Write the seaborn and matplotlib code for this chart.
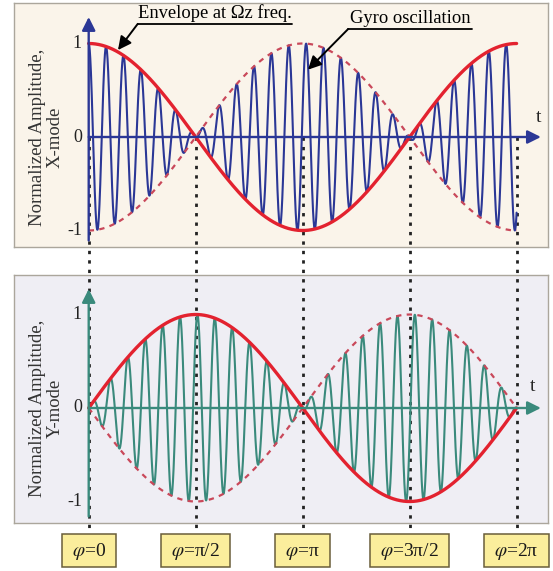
import numpy as np
import pandas as pd
import matplotlib
matplotlib.use("Agg")
import matplotlib.pyplot as plt
import matplotlib.transforms as mtransforms
from matplotlib.patches import FancyArrowPatch
import seaborn as sns

# ---- signal description -------------------------------------------------
phase_stops = [0.0, np.pi / 2, np.pi, 3 * np.pi / 2, 2 * np.pi]
phase_labels = [r"$\varphi$=0", r"$\varphi$=π/2", r"$\varphi$=π",
                r"$\varphi$=3π/2", r"$\varphi$=2π"]
carrier_cycles = 24.6          # gyro oscillations per envelope period
amplitude_ticks = [1, 0, -1]
panel_titles = ["Normalized Amplitude,\nX-mode", "Normalized Amplitude,\nY-mode"]
envelope_note = "Envelope at Ωz freq."
gyro_note = "Gyro oscillation"

phi = np.linspace(0, 2 * np.pi, 6000)
env_x = np.cos(phi)
env_y = np.sin(phi)
carrier_x = np.cos(carrier_cycles * phi)
carrier_y = np.sin(carrier_cycles * phi)

df = pd.DataFrame({
    "phi": phi,
    "x_signal": env_x * carrier_x,
    "x_env": env_x,
    "x_env_neg": -env_x,
    "y_signal": env_y * carrier_y,
    "y_env": env_y,
    "y_env_neg": -env_y,
})

# ---- styling ------------------------------------------------------------
sns.set_style("white")
plt.rcParams["font.family"] = ["Liberation Serif", "DejaVu Serif"]
plt.rcParams["mathtext.fontset"] = "stix"

BLUE = "#2B3796"
TEAL = "#3A8A7C"
RED = "#E3222F"
RED_DASH = "#C9485A"
TOP_BG = "#FAF4EA"
BOT_BG = "#EFEEF4"
FRAME = "#ABA69C"

W, H = 553, 571
fig = plt.figure(figsize=(W / 100, H / 100), dpi=100)
fig.patch.set_facecolor("white")

px_per_rad = 68.1
px_per_unit = 93.5
x0_px = 88.7
left_px, right_px = 14, 548


def make_panel(top_px, bottom_px, zero_px, bg):
    ax = fig.add_axes([left_px / W, 1 - bottom_px / H,
                       (right_px - left_px) / W, (bottom_px - top_px) / H])
    ax.set_xlim((left_px - x0_px) / px_per_rad, (right_px - x0_px) / px_per_rad)
    ax.set_ylim(-(bottom_px - zero_px) / px_per_unit, (zero_px - top_px) / px_per_unit)
    ax.set_xticks([])
    ax.set_yticks([])
    for s in ax.spines.values():
        s.set_color(FRAME)
        s.set_linewidth(1.0)
    # panel fill sits behind the phase guide lines, so it is a figure patch
    bb = ax.get_position()
    fig.add_artist(plt.Rectangle((bb.x0, bb.y0), bb.width, bb.height,
                                 transform=fig.transFigure, fc=bg, ec="none",
                                 zorder=-2))
    ax.patch.set_alpha(0)
    ax.set_zorder(1)
    return ax


ax_top = make_panel(3, 247, 137, TOP_BG)
ax_bot = make_panel(275, 523, 408, BOT_BG)


def draw_panel(ax, sig, env, env_neg, color, ylabel):
    sns.lineplot(data=df, x="phi", y=sig, ax=ax, color=color, lw=1.5,
                 zorder=3, estimator=None, sort=False)
    sns.lineplot(data=df, x="phi", y=env_neg, ax=ax, color=RED_DASH, lw=1.6,
                 zorder=4, estimator=None, sort=False)
    ax.lines[-1].set_linestyle((0, (2.4, 2.4)))
    sns.lineplot(data=df, x="phi", y=env, ax=ax, color=RED, lw=2.4,
                 zorder=5, estimator=None, sort=False)
    ax.set_xlabel("")
    ax.set_ylabel("")

    xmin, xmax = ax.get_xlim()
    ymin, ymax = ax.get_ylim()
    # time axis and amplitude axis with arrow heads
    ax.add_patch(FancyArrowPatch((0, 0), (6.64, 0), arrowstyle="-|>",
                                 mutation_scale=20, color=color, lw=1.7,
                                 shrinkA=0, shrinkB=0, zorder=6))
    ax.add_patch(FancyArrowPatch((0, ymin + 0.07), (0, ymax - 0.15),
                                 arrowstyle="-|>", mutation_scale=20,
                                 color=color, lw=1.7, shrinkA=0, shrinkB=0,
                                 zorder=6))
    for v in amplitude_ticks:
        ax.text(-0.1, v, "-1" if v < 0 else str(v), ha="right", va="center",
                fontsize=13, color="#222222")
    ax.text(xmin + 0.48, 0, ylabel, rotation=90, ha="center", va="center",
            fontsize=13.5, color="#333333", linespacing=1.05)
    ax.grid(False)


draw_panel(ax_top, "x_signal", "x_env", "x_env_neg", BLUE, panel_titles[0])
draw_panel(ax_bot, "y_signal", "y_env", "y_env_neg", TEAL, panel_titles[1])
ax_top.text(6.6, 0.12, "t", fontsize=14, ha="center", va="bottom")
ax_bot.text(6.52, 0.14, "t", fontsize=14, ha="center", va="bottom")

# ---- phase guide lines and labels ----------------------------------------
to_fig = fig.transFigure.inverted()
y_start = to_fig.transform(ax_top.transData.transform((0, 0)))[1]
y_end = 1 - 533 / H
y_box = 1 - 550.5 / H
box_h = 33 / H
trans = mtransforms.blended_transform_factory(ax_top.transData, fig.transFigure)
renderer = fig.canvas.get_renderer()
for p, lab in zip(phase_stops, phase_labels):
    fig.add_artist(plt.Line2D([p, p], [y_start, y_end], transform=trans,
                              color="#222222", lw=2.0,
                              linestyle=(0, (1.2, 2.2)), zorder=-1))
    t = fig.text(p, y_box - 5 / H, lab, transform=trans, ha="center",
                 va="baseline", fontsize=14, color="#1A1A1A", zorder=3)
    tw = t.get_window_extent(renderer).width
    xc = to_fig.transform(ax_top.transData.transform((p, 0)))[0]
    bw = (tw + 20) / W
    fig.add_artist(plt.Rectangle((xc - bw / 2, y_box - box_h / 2), bw, box_h,
                                 transform=fig.transFigure, fc="#FBEE9C",
                                 ec="#6A5E3A", lw=1.1, zorder=2))

# ---- annotations ---------------------------------------------------------
def note(ax, text, x_left, x_right, y_line, tip):
    ax.plot([x_left, x_right], [y_line, y_line], color="black", lw=1.3,
            clip_on=False, zorder=7)
    ax.text((x_left + x_right) / 2, y_line + 0.025, text, ha="center",
            va="bottom", fontsize=13.3, color="black", zorder=7)
    ax.add_patch(FancyArrowPatch((x_left, y_line), tip, arrowstyle="-|>",
                                 mutation_scale=20, color="black", lw=1.4,
                                 shrinkA=0, shrinkB=0, zorder=7))


note(ax_top, envelope_note, 0.72, 2.99, 1.21, (0.43, 0.93))
note(ax_top, gyro_note, 3.81, 5.63, 1.155, (3.22, 0.72))

fig.savefig("out.png", dpi=100)
